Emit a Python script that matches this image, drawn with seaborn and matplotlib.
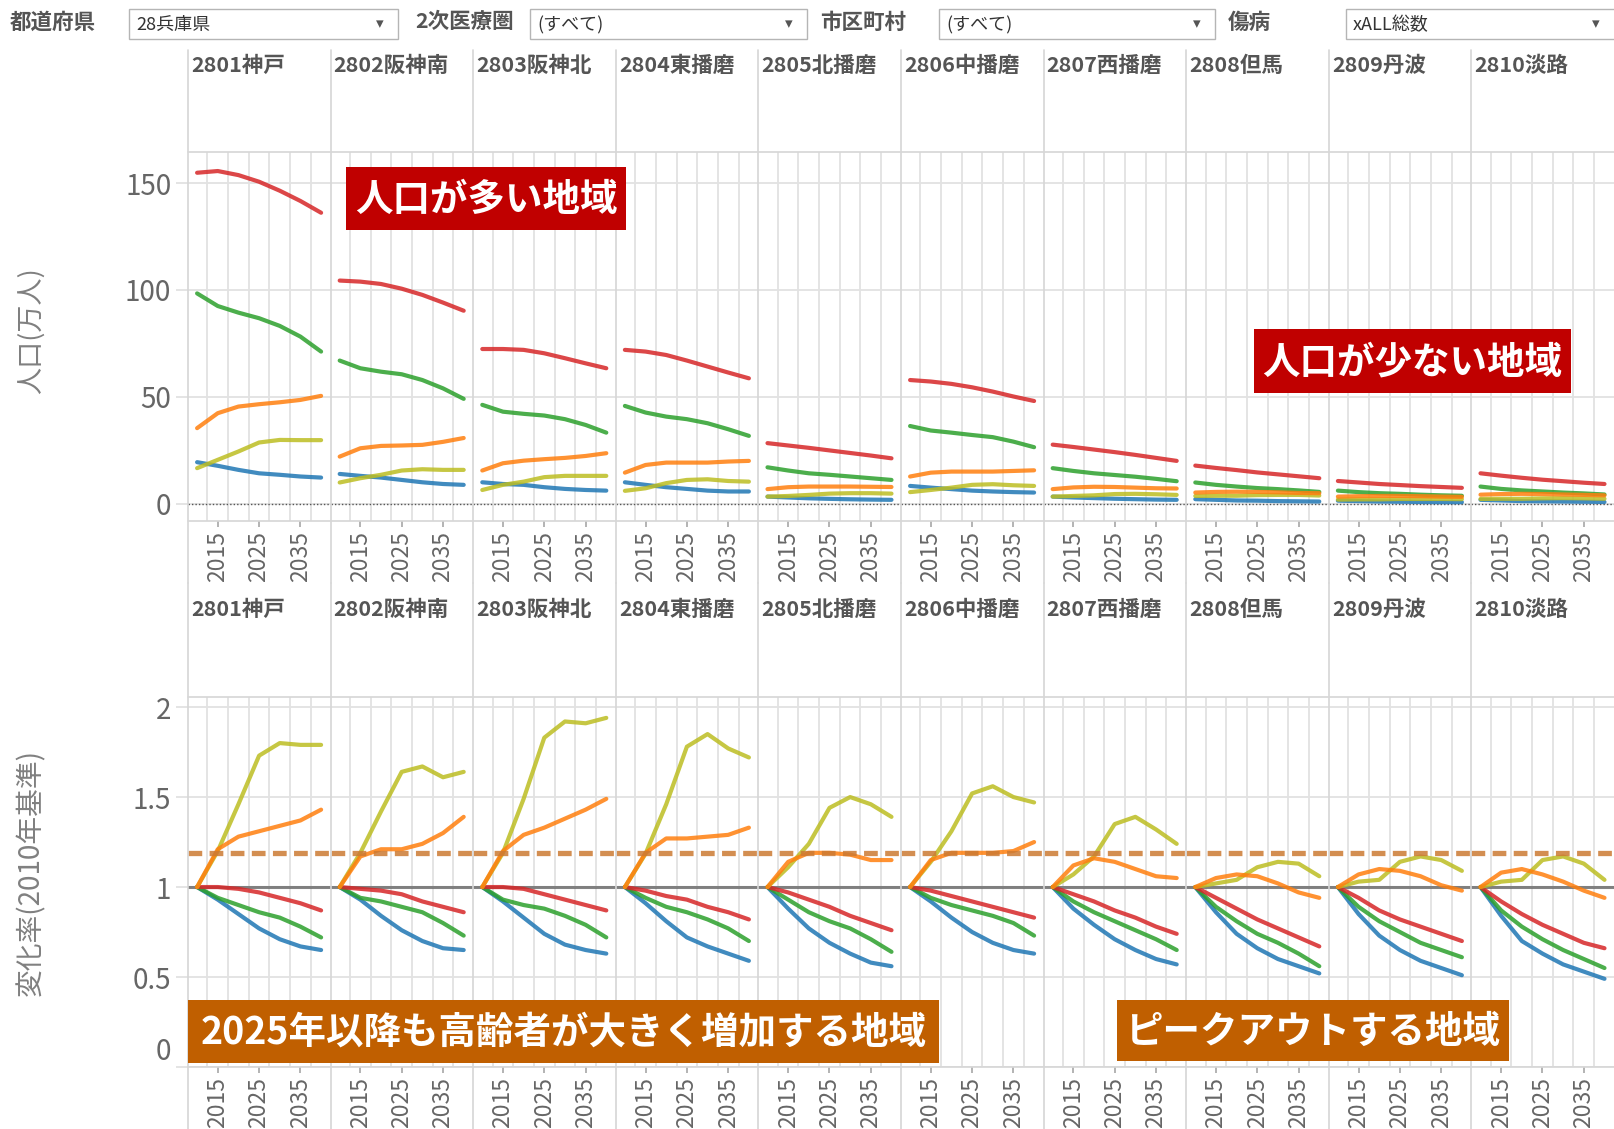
import numpy as np
import pandas as pd
import seaborn as sns
import matplotlib.pyplot as plt
from matplotlib.patches import Rectangle
from matplotlib.lines import Line2D

# chart values
years = [2010, 2015, 2020, 2025, 2030, 2035, 2040]
regions = ['2801神戸', '2802阪神南', '2803阪神北', '2804東播磨', '2805北播磨',
           '2806中播磨', '2807西播磨', '2808但馬', '2809丹波', '2810淡路']
series = ['総数', '15-64歳', '65歳以上', '75歳以上', '0-14歳']
series_colors = ['#D62728', '#2CA02C', '#FF7F0E', '#BCBD22', '#1F77B4']

# population (万人)
pop_total = [
    [154.8, 155.6, 153.7, 150.6, 146.4, 141.6, 136.1],
    [104.4, 103.9, 102.8, 100.6, 97.7, 94.1, 90.3],
    [72.4, 72.4, 72.0, 70.4, 68.1, 65.7, 63.4],
    [72.0, 71.2, 69.6, 67.0, 64.2, 61.4, 58.7],
    [28.4, 27.3, 26.2, 25.0, 23.8, 22.6, 21.3],
    [57.9, 57.2, 56.1, 54.5, 52.5, 50.2, 48.1],
    [27.7, 26.6, 25.4, 24.2, 22.9, 21.5, 20.1],
    [17.9, 16.8, 15.8, 14.7, 13.8, 12.9, 12.0],
    [10.7, 10.0, 9.3, 8.8, 8.3, 7.9, 7.5],
    [14.3, 13.2, 12.2, 11.3, 10.6, 9.9, 9.3],
]
pop_1564 = [
    [98.4, 92.5, 89.4, 86.8, 83.2, 78.2, 71.2],
    [67.0, 63.4, 61.8, 60.6, 57.9, 54.0, 49.1],
    [46.3, 43.1, 42.1, 41.3, 39.6, 36.9, 33.3],
    [45.8, 42.7, 40.8, 39.6, 37.7, 34.9, 31.8],
    [17.1, 15.6, 14.3, 13.6, 12.8, 12.0, 11.2],
    [36.4, 34.3, 33.3, 32.2, 31.2, 29.1, 26.5],
    [16.7, 15.4, 14.3, 13.5, 12.7, 11.7, 10.6],
    [10.0, 8.9, 8.1, 7.4, 6.9, 6.3, 5.6],
    [6.2, 5.5, 5.0, 4.7, 4.3, 4.0, 3.8],
    [8.1, 7.0, 6.3, 5.8, 5.3, 4.9, 4.4],
]
pop_65 = [
    [35.4, 42.4, 45.5, 46.6, 47.5, 48.6, 50.5],
    [22.1, 26.0, 27.1, 27.3, 27.6, 29.0, 30.8],
    [15.6, 19.0, 20.2, 20.9, 21.5, 22.4, 23.7],
    [14.6, 18.2, 19.3, 19.3, 19.3, 19.8, 20.1],
    [6.9, 7.8, 8.1, 8.1, 8.1, 8.0, 7.9],
    [12.8, 14.6, 15.1, 15.1, 15.1, 15.4, 15.7],
    [6.9, 7.7, 8.0, 7.9, 7.6, 7.3, 7.2],
    [5.3, 5.6, 5.7, 5.6, 5.4, 5.1, 5.0],
    [3.4, 3.6, 3.7, 3.7, 3.6, 3.4, 3.3],
    [4.3, 4.6, 4.7, 4.6, 4.4, 4.2, 4.0],
]
pop_75 = [
    [16.7, 20.6, 24.5, 28.7, 29.9, 29.8, 29.8],
    [10.0, 12.0, 13.6, 15.6, 16.2, 15.9, 15.9],
    [6.5, 8.9, 10.4, 12.5, 13.1, 13.1, 13.1],
    [6.1, 7.3, 9.7, 11.2, 11.5, 10.7, 10.4],
    [3.4, 3.7, 4.2, 4.8, 5.0, 5.0, 4.8],
    [5.5, 6.5, 7.6, 8.9, 9.2, 8.7, 8.4],
    [3.4, 3.7, 4.0, 4.6, 4.7, 4.5, 4.2],
    [3.7, 3.8, 3.8, 4.1, 4.2, 4.2, 3.9],
    [2.0, 2.1, 2.1, 2.3, 2.3, 2.3, 2.2],
    [2.3, 2.4, 2.4, 2.6, 2.7, 2.6, 2.4],
]
pop_014 = [
    [19.5, 17.8, 15.9, 14.3, 13.6, 12.8, 12.3],
    [14.0, 13.1, 12.3, 11.2, 10.1, 9.3, 8.9],
    [10.1, 9.3, 8.9, 7.8, 7.0, 6.5, 6.2],
    [10.1, 8.9, 7.8, 7.0, 6.2, 5.8, 5.8],
    [3.4, 3.0, 2.6, 2.35, 2.15, 2.0, 1.9],
    [8.4, 7.6, 6.9, 6.2, 5.8, 5.5, 5.3],
    [3.4, 3.0, 2.7, 2.4, 2.2, 2.0, 1.9],
    [2.2, 1.9, 1.6, 1.5, 1.3, 1.2, 1.1],
    [1.5, 1.3, 1.1, 1.0, 0.9, 0.8, 0.8],
    [1.9, 1.6, 1.3, 1.2, 1.1, 1.0, 0.9],
]

# change rate (2010 = 1)
ratio_total = [
    [1, 1.00, 0.99, 0.97, 0.94, 0.91, 0.87],
    [1, 0.99, 0.98, 0.96, 0.92, 0.89, 0.86],
    [1, 1.00, 0.99, 0.96, 0.93, 0.90, 0.87],
    [1, 0.98, 0.95, 0.93, 0.89, 0.86, 0.82],
    [1, 0.97, 0.93, 0.89, 0.84, 0.80, 0.76],
    [1, 0.98, 0.95, 0.92, 0.89, 0.86, 0.83],
    [1, 0.96, 0.92, 0.87, 0.83, 0.78, 0.74],
    [1, 0.94, 0.88, 0.82, 0.77, 0.72, 0.67],
    [1, 0.94, 0.87, 0.82, 0.78, 0.74, 0.70],
    [1, 0.92, 0.85, 0.79, 0.74, 0.69, 0.66],
]
ratio_1564 = [
    [1, 0.94, 0.90, 0.86, 0.83, 0.78, 0.72],
    [1, 0.94, 0.92, 0.89, 0.86, 0.80, 0.73],
    [1, 0.93, 0.90, 0.88, 0.84, 0.79, 0.72],
    [1, 0.94, 0.89, 0.86, 0.82, 0.77, 0.70],
    [1, 0.93, 0.86, 0.81, 0.77, 0.71, 0.64],
    [1, 0.94, 0.90, 0.87, 0.84, 0.80, 0.73],
    [1, 0.92, 0.86, 0.81, 0.76, 0.71, 0.65],
    [1, 0.89, 0.81, 0.74, 0.69, 0.63, 0.56],
    [1, 0.89, 0.81, 0.75, 0.69, 0.65, 0.61],
    [1, 0.87, 0.78, 0.71, 0.65, 0.60, 0.55],
]
ratio_65 = [
    [1, 1.21, 1.28, 1.31, 1.34, 1.37, 1.43],
    [1, 1.17, 1.21, 1.21, 1.24, 1.30, 1.39],
    [1, 1.20, 1.29, 1.33, 1.38, 1.43, 1.49],
    [1, 1.19, 1.27, 1.27, 1.28, 1.29, 1.33],
    [1, 1.14, 1.19, 1.19, 1.18, 1.15, 1.15],
    [1, 1.15, 1.19, 1.19, 1.19, 1.20, 1.25],
    [1, 1.12, 1.16, 1.14, 1.10, 1.06, 1.05],
    [1, 1.05, 1.07, 1.06, 1.02, 0.97, 0.94],
    [1, 1.07, 1.10, 1.09, 1.06, 1.01, 0.98],
    [1, 1.08, 1.10, 1.07, 1.03, 0.98, 0.94],
]
ratio_75 = [
    [1, 1.20, 1.46, 1.73, 1.80, 1.79, 1.79],
    [1, 1.19, 1.42, 1.64, 1.67, 1.61, 1.64],
    [1, 1.19, 1.49, 1.83, 1.92, 1.91, 1.94],
    [1, 1.185, 1.46, 1.78, 1.85, 1.77, 1.72],
    [1, 1.11, 1.24, 1.44, 1.50, 1.46, 1.39],
    [1, 1.14, 1.31, 1.52, 1.56, 1.50, 1.47],
    [1, 1.07, 1.17, 1.35, 1.39, 1.32, 1.24],
    [1, 1.02, 1.04, 1.11, 1.14, 1.13, 1.06],
    [1, 1.03, 1.04, 1.14, 1.17, 1.15, 1.09],
    [1, 1.03, 1.04, 1.15, 1.17, 1.13, 1.04],
]
ratio_014 = [
    [1, 0.93, 0.85, 0.77, 0.71, 0.67, 0.65],
    [1, 0.93, 0.84, 0.76, 0.70, 0.66, 0.65],
    [1, 0.92, 0.83, 0.74, 0.68, 0.65, 0.63],
    [1, 0.91, 0.81, 0.72, 0.67, 0.63, 0.59],
    [1, 0.88, 0.77, 0.69, 0.63, 0.58, 0.56],
    [1, 0.92, 0.83, 0.75, 0.69, 0.65, 0.63],
    [1, 0.88, 0.79, 0.71, 0.65, 0.60, 0.57],
    [1, 0.86, 0.74, 0.66, 0.60, 0.56, 0.52],
    [1, 0.85, 0.73, 0.65, 0.59, 0.55, 0.51],
    [1, 0.84, 0.70, 0.63, 0.57, 0.53, 0.49],
]

pop_lists = [pop_total, pop_1564, pop_65, pop_75, pop_014]
ratio_lists = [ratio_total, ratio_1564, ratio_65, ratio_75, ratio_014]

rows = []
for s, name in enumerate(series):
    for r, region in enumerate(regions):
        for k, yr in enumerate(years):
            rows.append({'region': region, 'series': name, 'year': yr,
                         'pop': pop_lists[s][r][k], 'ratio': ratio_lists[s][r][k]})
df = pd.DataFrame(rows)

palette = dict(zip(series, series_colors))
draw_order = ['0-14歳', '15-64歳', '総数', '75歳以上', '65歳以上']

sns.set_theme(style='white')
plt.rcParams['font.family'] = ['Noto Sans CJK JP', 'DejaVu Sans']

W, H = 1614, 1129
fig = plt.figure(figsize=(W / 100, H / 100), dpi=100)


def fx(x):
    return x / W


def fy(y):
    return 1 - y / H


def fig_box(x0, y0, x1, y1):
    return [x0 / W, 1 - y1 / H, (x1 - x0) / W, (y1 - y0) / H]


grid_c = '#E2E2E2'
sep_c = '#D6D6D6'
tick_c = '#666666'
left = 188
panel_w = (W - left) / 10

# --- filter bar ---
filters = [('都道府県', 10, 129, 398, '28兵庫県'),
           ('2次医療圏', 415, 530, 807, '(すべて)'),
           ('市区町村', 820, 939, 1215, '(すべて)'),
           ('傷病', 1228, 1346, 1660, 'xALL総数')]
for lab, lx, bx0, bx1, val in filters:
    fig.text(fx(lx), fy(22), lab, fontsize=15.5, fontweight='bold', color='#555555',
             ha='left', va='center')
    fig.add_artist(Rectangle((fx(bx0), fy(39)), (bx1 - bx0) / W, 30 / H,
                             transform=fig.transFigure, facecolor='white',
                             edgecolor='#B5B5B5', lw=1))
    fig.text(fx(bx0 + 7), fy(25), val, fontsize=13, color='#333333', ha='left', va='center')
    ax_x = min(bx1, W) - 18
    fig.text(fx(ax_x), fy(24), '▾', fontsize=11, color='#555555', ha='center', va='center',
             family=['DejaVu Sans'])

# --- two rows of small multiples ---
row_specs = [
    dict(col='pop', head_top=50, plot_top=152, plot_bot=521, title_y=65,
         ylim=(-8, 164.5), yticks=[0, 50, 100, 150], ylabels=['0', '50', '100', '150']),
    dict(col='ratio', head_top=583, plot_top=697, plot_bot=1067, title_y=609,
         ylim=(0, 2.056), yticks=[0, 0.5, 1, 1.5, 2], ylabels=['0', '0.5', '1', '1.5', '2']),
]

for spec in row_specs:
    for i, region in enumerate(regions):
        x0 = left + i * panel_w
        ax = fig.add_axes(fig_box(x0, spec['plot_top'], x0 + panel_w, spec['plot_bot']))
        ax.set_facecolor('none')
        sub = df[df['region'] == region]
        if spec['col'] == 'ratio':
            ax.axhline(1, color='#6E6E6E', lw=2.2, alpha=0.85, zorder=1)
        else:
            ax.axhline(0, color='#555555', lw=1, ls=(0, (1, 1.5)), zorder=1)
        sns.lineplot(data=sub, x='year', y=spec['col'], hue='series', hue_order=draw_order,
                     palette=palette, linewidth=3, alpha=0.85, legend=False, ax=ax, zorder=3)
        if spec['col'] == 'ratio':
            ax.axhline(1.19, color='#CC7A33', lw=3.8, alpha=0.85, dashes=(2.6, 1.4), zorder=4)
        ax.set_xlim(2007.8, 2042.3)
        ax.set_ylim(*spec['ylim'])
        ax.set_xticks([2015, 2025, 2035])
        ax.set_xticklabels(['2015', '2025', '2035'], rotation=90, fontsize=16.5, color=tick_c)
        ax.set_xticks(np.arange(2012.5, 2040, 5), minor=True)
        ax.set_yticks(spec['yticks'])
        ax.grid(False)
        ax.grid(which='minor', axis='x', color=grid_c, lw=1.3)
        ax.grid(which='major', axis='y', color=grid_c, lw=1.3)
        ax.tick_params(axis='x', which='major', length=4, color='#AAAAAA', pad=3, bottom=True)
        ax.tick_params(axis='x', which='minor', length=0)
        if i == 0:
            ax.set_yticklabels(spec['ylabels'], fontsize=20, color=tick_c)
            ax.tick_params(axis='y', length=9, color=grid_c, width=1.3, pad=3, left=True)
            for lbl in ax.get_yticklabels():
                if lbl.get_text() == '0' and spec['col'] == 'ratio':
                    lbl.set_va('bottom')
        else:
            ax.set_yticklabels([])
            ax.tick_params(axis='y', length=0)
        ax.set_xlabel('')
        ax.set_ylabel('')
        for sp in ax.spines.values():
            sp.set_visible(False)

        fig.text(fx(x0 + 3), fy(spec['title_y']), region, fontsize=15.5, fontweight='bold',
                 color='#555555', ha='left', va='center')

    # frame lines of the row
    for y in (spec['plot_top'], spec['plot_bot']):
        fig.add_artist(Line2D([fx(left), 1], [fy(y), fy(y)], color=sep_c, lw=1.2))
    for i in range(10):
        x0 = left + i * panel_w
        y_end = spec['plot_bot'] + 62
        fig.add_artist(Line2D([fx(x0), fx(x0)], [fy(spec['head_top']), fy(y_end)],
                              color=sep_c, lw=1.2))

# axis titles
fig.text(fx(31), fy(331), '人口(万人)', rotation=90, fontsize=19.5, color='#808080',
         ha='center', va='center')
fig.text(fx(31), fy(873), '変化率(2010年基準)', rotation=90, fontsize=20, color='#808080',
         ha='center', va='center')

# callout boxes
callouts = [('人口が多い地域', 346, 167, 626, 230, '#C00000'),
            ('人口が少ない地域', 1254, 329, 1571, 393, '#C00000'),
            ('2025年以降も高齢者が大きく増加する地域', 188, 1000, 939, 1063, '#C05F00'),
            ('ピークアウトする地域', 1117, 1000, 1509, 1061, '#C05F00')]
for txt, x0, y0, x1, y1, c in callouts:
    fig.add_artist(Rectangle((fx(x0), fy(y1)), (x1 - x0) / W, (y1 - y0) / H,
                             transform=fig.transFigure, facecolor=c, edgecolor='none',
                             zorder=10))
    fig.text(fx((x0 + x1) / 2), fy((y0 + y1) / 2 + 1), txt, fontsize=27, fontweight='bold',
             color='white', ha='center', va='center', zorder=11)

plt.savefig('out.png', dpi=100, facecolor='white')
